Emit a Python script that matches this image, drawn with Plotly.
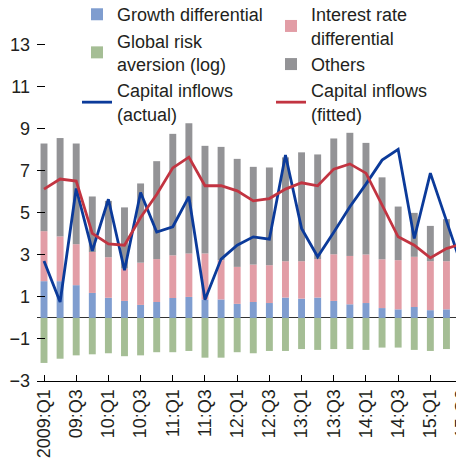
import plotly.graph_objects as go

quarters = ["2009:Q1", "09:Q2", "09:Q3", "09:Q4", "10:Q1", "10:Q2", "10:Q3", "10:Q4",
            "11:Q1", "11:Q2", "11:Q3", "11:Q4", "12:Q1", "12:Q2", "12:Q3", "12:Q4",
            "13:Q1", "13:Q2", "13:Q3", "13:Q4", "14:Q1", "14:Q2", "14:Q3", "14:Q4",
            "15:Q1", "15:Q2", "15:Q3"]
tick_labels = quarters[::2]

growth = [1.75, 1.75, 1.56, 1.19, 0.96, 0.81, 0.62, 0.76, 0.95, 1.00, 0.88, 0.88, 0.67, 0.76,
          0.71, 0.97, 0.92, 0.97, 0.81, 0.65, 0.71, 0.47, 0.41, 0.52, 0.37, 0.41, 0.52]
interest = [2.38, 2.13, 1.95, 1.95, 1.93, 1.54, 2.01, 2.04, 2.03, 2.07, 2.19, 1.87, 1.76, 1.78,
            1.80, 1.73, 1.78, 1.83, 2.22, 2.30, 2.31, 2.32, 2.34, 2.39, 2.33, 2.29, 1.86]
others = [4.17, 4.68, 4.79, 2.64, 2.68, 2.91, 3.77, 4.66, 5.78, 6.20, 5.12, 5.39, 5.14, 4.65,
          4.65, 4.94, 5.18, 4.98, 5.51, 5.86, 5.31, 3.90, 2.55, 2.09, 1.68, 2.00, 2.78]
risk = [-2.14, -1.94, -1.78, -1.73, -1.68, -1.82, -1.78, -1.63, -1.63, -1.57, -1.89, -1.89, -1.63, -1.68,
        -1.57, -1.57, -1.48, -1.52, -1.48, -1.48, -1.52, -1.41, -1.41, -1.52, -1.57, -1.48, -1.68]
actual = [2.71, 0.76, 6.16, 3.19, 5.65, 2.27, 5.97, 4.09, 4.34, 5.77, 0.87, 2.80, 3.46, 3.86,
          3.75, 7.75, 4.26, 2.91, 4.08, 5.29, 6.37, 7.51, 8.02, 3.78, 6.89, 4.65, 2.35]
fitted = [6.13, 6.61, 6.51, 4.02, 3.52, 3.46, 4.78, 5.87, 7.14, 7.65, 6.29, 6.29, 6.05, 5.57,
          5.68, 6.13, 6.43, 6.29, 7.08, 7.33, 6.89, 5.35, 3.86, 3.46, 2.86, 3.30, 3.54]

FONT = "Liberation Sans, Arial, sans-serif"
TXT = "#231f20"

fig = go.Figure()
fig.add_trace(go.Bar(x=quarters, y=growth, name="Growth differential",
                     marker=dict(color="#7f9dcf", line=dict(width=0)), legend="legend"))
fig.add_trace(go.Bar(x=quarters, y=interest, name="Interest rate<br>differential",
                     marker=dict(color="#e29da6", line=dict(width=0)), legend="legend2"))
fig.add_trace(go.Bar(x=quarters, y=others, name="Others",
                     marker=dict(color="#939396", line=dict(width=0)), legend="legend2"))
fig.add_trace(go.Bar(x=quarters, y=risk, name="Global risk<br>aversion (log)",
                     marker=dict(color="#a5be95", line=dict(width=0)), legend="legend"))
fig.add_trace(go.Scatter(x=quarters, y=actual, name="Capital inflows<br>(actual)", mode="lines",
                         line=dict(color="#0b3a9a", width=2.8), legend="legend"))
fig.add_trace(go.Scatter(x=quarters, y=fitted, name="Capital inflows<br>(fitted)", mode="lines",
                         line=dict(color="#c23441", width=2.8), legend="legend2"))

leg_common = dict(y=1.032, yanchor="top", xanchor="left",
                  bgcolor="rgba(0,0,0,0)", font=dict(family=FONT, size=18, color=TXT),
                  tracegroupgap=0, traceorder="normal")

fig.update_layout(
    width=456, height=451, autosize=False,
    margin=dict(l=29, r=0, t=0, b=78.3, pad=0, autoexpand=False),
    paper_bgcolor="white", plot_bgcolor="white",
    barmode="relative", bargap=0.57,
    font=dict(family=FONT, size=18, color=TXT),
    legend=dict(x=0.0937, **leg_common),
    legend2=dict(x=0.548, **leg_common),
    xaxis=dict(type="category", categoryorder="array", categoryarray=quarters,
               range=[-0.435, 26.09], tickmode="array", tickvals=tick_labels, ticktext=tick_labels,
               tickangle=-90, ticks="inside", ticklen=6, tickcolor="black", tickwidth=1,
               showline=True, linecolor="black", linewidth=1, showgrid=False, zeroline=False,
               automargin=False,
               tickfont=dict(family=FONT, size=18, color=TXT)),
    yaxis=dict(range=[-3, 14.748], tickmode="array", tickvals=list(range(-3, 15, 2)),
               ticktext=[("\u2212" + str(-v)) if v < 0 else str(v) for v in range(-3, 15, 2)],
               ticks="inside", ticklen=8, tickcolor="black", tickwidth=1,
               showline=False, showgrid=False, zeroline=True, zerolinecolor="#333333",
               zerolinewidth=1, ticklabelstandoff=6, automargin=False,
               tickfont=dict(family=FONT, size=18, color=TXT)),
)

fig.write_html("out.html")
